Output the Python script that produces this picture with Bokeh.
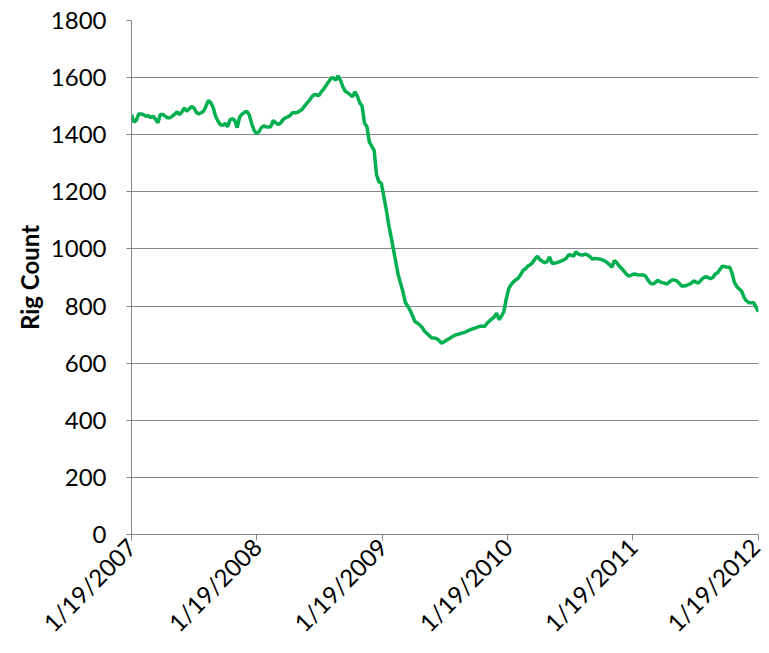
import math
import pandas as pd
from bokeh.plotting import figure
from bokeh.models import FixedTicker, Range1d, ColumnDataSource
from bokeh.embed import file_html
from bokeh.resources import INLINE

# ---- data (weekly rig count) ----
start_date = "2007-01-19"
rig_count = [
    1470, 1445, 1450, 1473, 1473, 1470, 1465, 1467, 1460, 1465,
    1455, 1442, 1471, 1471, 1465, 1459, 1459, 1465, 1472, 1480,
    1470, 1480, 1494, 1482, 1490, 1499, 1494, 1478, 1473, 1477,
    1482, 1500, 1520, 1512, 1495, 1465, 1448, 1435, 1433, 1440,
    1428, 1452, 1456, 1450, 1425, 1462, 1472, 1478, 1482, 1470,
    1440, 1416, 1404, 1410, 1424, 1431, 1428, 1427, 1428, 1450,
    1442, 1436, 1440, 1452, 1459, 1462, 1467, 1477, 1477, 1478,
    1483, 1488, 1500, 1510, 1520, 1532, 1540, 1540, 1537, 1550,
    1560, 1572, 1585, 1597, 1600, 1591, 1606, 1590, 1568, 1552,
    1547, 1540, 1533, 1550, 1535, 1512, 1500, 1440, 1429, 1375,
    1360, 1345, 1260, 1235, 1230, 1185, 1140, 1088, 1045, 1000,
    955, 910, 880, 850, 812, 800, 785, 765, 746, 740,
    734, 725, 712, 704, 696, 688, 688, 686, 680, 670,
    674, 680, 685, 690, 695, 699, 701, 704, 706, 709,
    713, 717, 720, 723, 726, 729, 729, 729, 740, 748,
    755, 762, 775, 752, 765, 780, 825, 860, 875, 885,
    892, 898, 910, 925, 930, 940, 945, 953, 965, 975,
    962, 957, 952, 955, 972, 950, 950, 952, 955, 958,
    962, 967, 980, 978, 975, 990, 982, 979, 979, 982,
    978, 972, 964, 967, 966, 964, 962, 958, 952, 945,
    936, 959, 952, 940, 932, 922, 912, 905, 908, 912,
    911, 909, 909, 909, 905, 891, 880, 877, 882, 890,
    885, 882, 880, 877, 885, 891, 891, 888, 880, 870,
    870, 872, 876, 880, 888, 884, 880, 890, 898, 903,
    900, 896, 900, 912, 917, 929, 940, 938, 936, 936,
    915, 882, 868, 860, 852, 830, 818, 812, 812, 812,
    795, 780,
]
tick_dates = ["2007-01-19", "2008-01-19", "2009-01-19",
              "2010-01-19", "2011-01-19", "2012-01-19"]
tick_labels = ["1/19/2007", "1/19/2008", "1/19/2009",
               "1/19/2010", "1/19/2011", "1/19/2012"]
y_ticks = [0, 200, 400, 600, 800, 1000, 1200, 1400, 1600, 1800]
y_label = "Rig Count"

dates = pd.date_range(start_date, periods=len(rig_count), freq="7D")
src = ColumnDataSource(dict(date=dates, count=rig_count))

tick_ms = [float(pd.Timestamp(d).value // 10**6) for d in tick_dates]

FONT = "Lato"
GRAY = "#868686"

p = figure(width=765, height=650, x_axis_type="datetime",
           output_backend="svg", toolbar_location=None,
           x_range=Range1d(dates[0], dates[-1]), y_range=Range1d(0, 1800),
           min_border_left=131, min_border_right=7, min_border_top=20,
           min_border_bottom=113)
p.outline_line_color = None
p.background_fill_color = "white"
p.border_fill_color = "white"

p.line("date", "count", source=src, line_color="#00B050", line_width=3.5)

# grid
p.xgrid.grid_line_color = None
p.ygrid.grid_line_color = GRAY
p.ygrid.grid_line_width = 1
p.ygrid.ticker = FixedTicker(ticks=y_ticks)

# y axis
ya = p.yaxis[0]
ya.ticker = FixedTicker(ticks=y_ticks)
ya.axis_line_color = GRAY
ya.major_tick_line_color = GRAY
ya.major_tick_out = 5
ya.major_tick_in = 0
ya.minor_tick_line_color = None
ya.major_label_text_font = FONT
ya.major_label_text_font_size = "24px"
ya.major_label_text_color = "black"
ya.major_label_standoff = 20
ya.axis_label = y_label
ya.axis_label_text_font = FONT
ya.axis_label_text_font_style = "bold"
ya.axis_label_text_font_size = "24px"
ya.axis_label_text_color = "black"
ya.axis_label_standoff = 4

# x axis
xa = p.xaxis[0]
xa.ticker = FixedTicker(ticks=tick_ms)
xa.major_label_overrides = {t: l for t, l in zip(tick_ms, tick_labels)}
xa.axis_line_color = GRAY
xa.major_tick_line_color = GRAY
xa.major_tick_out = 6
xa.major_tick_in = 0
xa.minor_tick_line_color = None
xa.major_label_orientation = math.pi / 4
xa.major_label_text_font = FONT
xa.major_label_text_font_size = "24px"
xa.major_label_text_color = "black"
xa.major_label_standoff = 2

open("out.html", "w").write(file_html(p, INLINE))
